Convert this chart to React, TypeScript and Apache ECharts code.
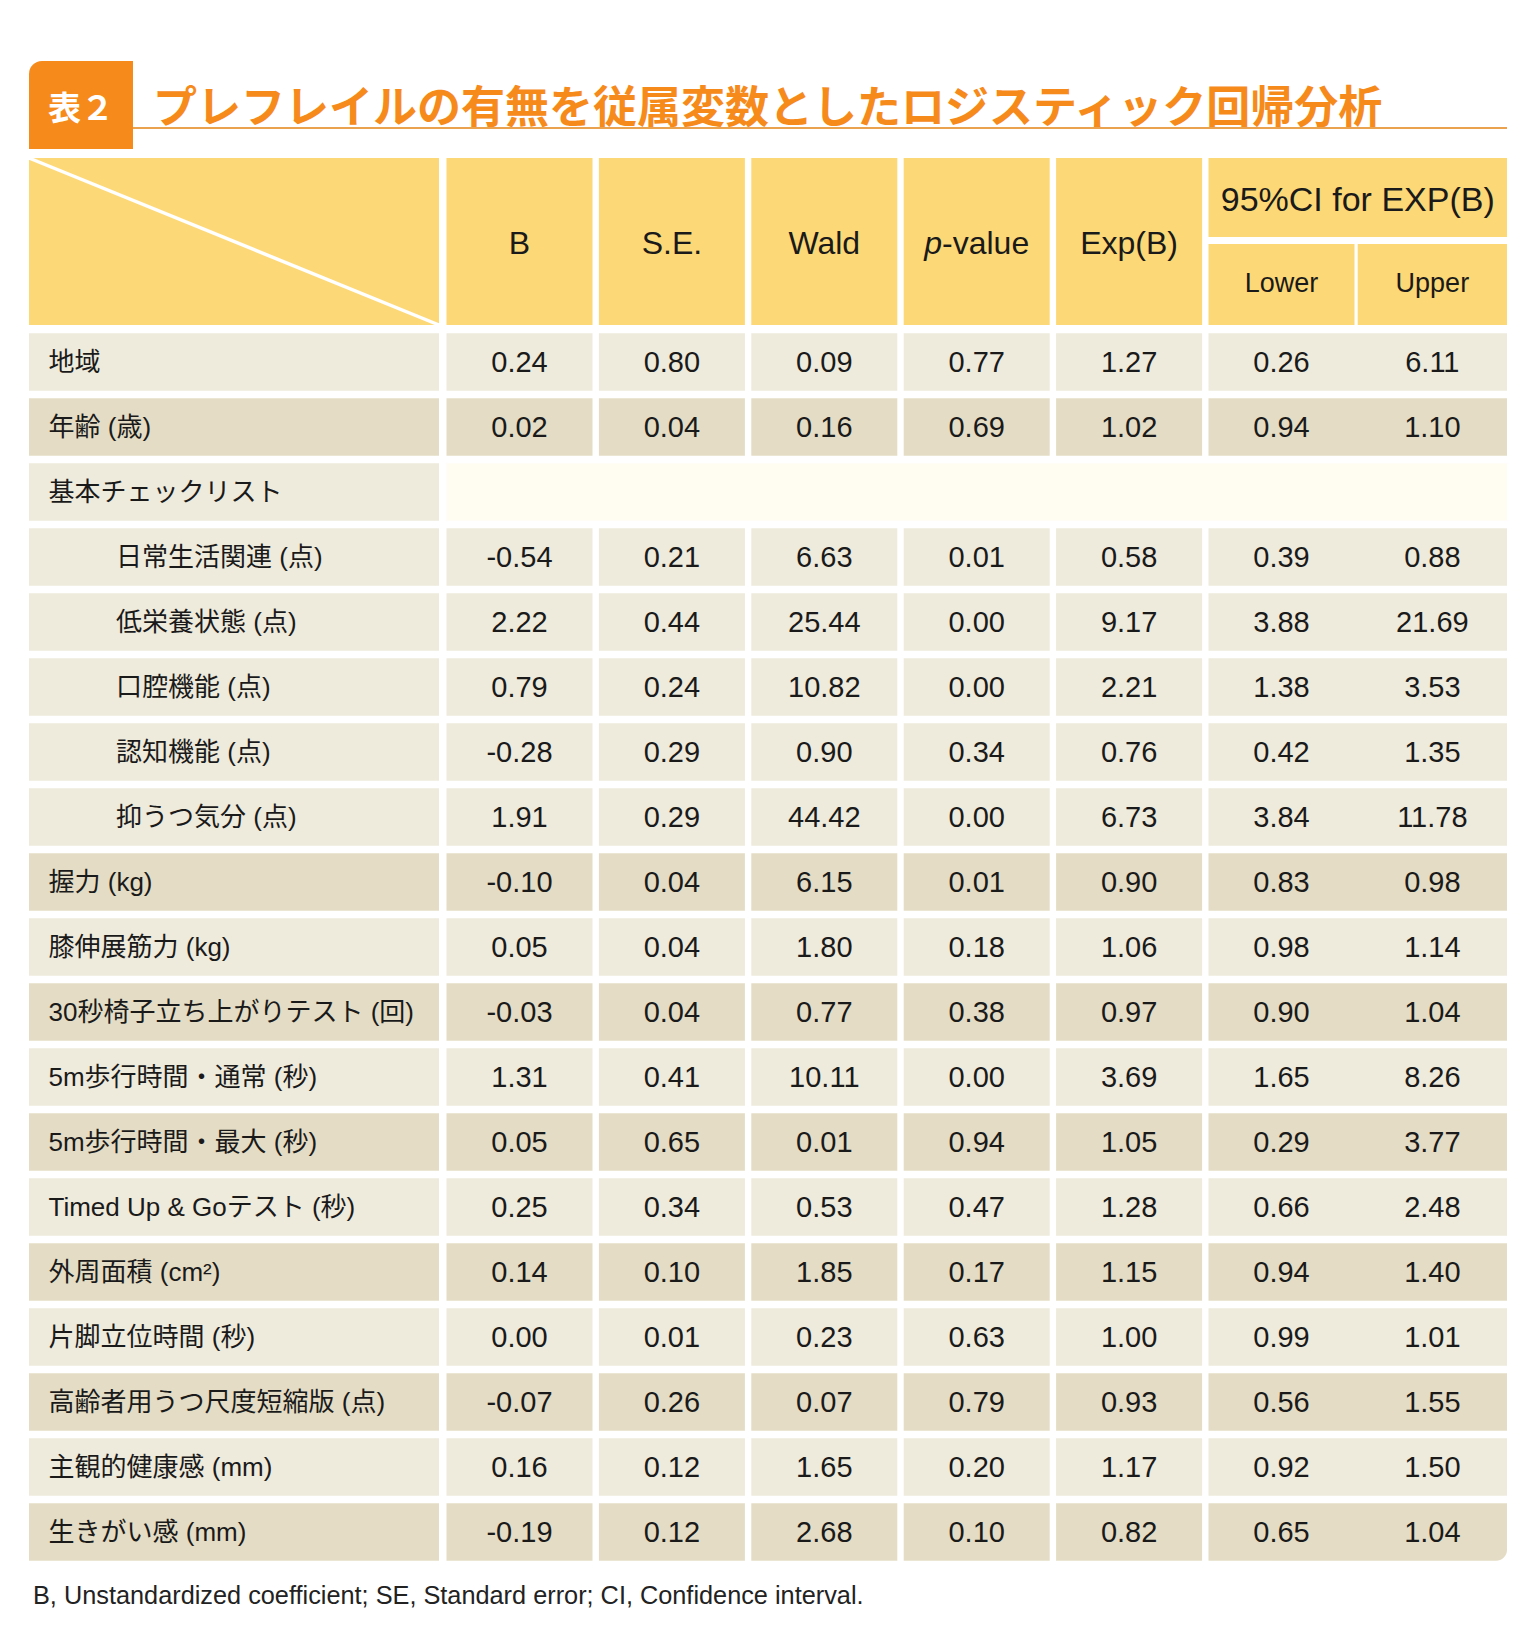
import React, { useEffect, useRef } from "react";
import * as echarts from "echarts";

// ---------- data ----------
const titleTag = "表２";
const titleText = "プレフレイルの有無を従属変数としたロジスティック回帰分析";
const colHeaders = ["B", "S.E.", "Wald", "p-value", "Exp(B)"];
const ciHeader = "95%CI for EXP(B)";
const ciSubHeaders = ["Lower", "Upper"];
const footnote = "B, Unstandardized coefficient; SE, Standard error; CI, Confidence interval.";

const rowLabels = [
  "地域",
  "年齢 (歳)",
  "基本チェックリスト",
  "日常生活関連 (点)",
  "低栄養状態 (点)",
  "口腔機能 (点)",
  "認知機能 (点)",
  "抑うつ気分 (点)",
  "握力 (kg)",
  "膝伸展筋力 (kg)",
  "30秒椅子立ち上がりテスト (回)",
  "5m歩行時間・通常 (秒)",
  "5m歩行時間・最大 (秒)",
  "Timed Up & Goテスト (秒)",
  "外周面積 (cm²)",
  "片脚立位時間 (秒)",
  "高齢者用うつ尺度短縮版 (点)",
  "主観的健康感 (mm)",
  "生きがい感 (mm)",
];
// hierarchy: 0 = top-level item, 1 = sub-item of the previous top-level item
const rowLevel = [0, 0, 0, 1, 1, 1, 1, 1, 0, 0, 0, 0, 0, 0, 0, 0, 0, 0, 0];

const valB = [0.24, 0.02, null, -0.54, 2.22, 0.79, -0.28, 1.91, -0.1, 0.05, -0.03, 1.31, 0.05, 0.25, 0.14, 0.0, -0.07, 0.16, -0.19];
const valSE = [0.8, 0.04, null, 0.21, 0.44, 0.24, 0.29, 0.29, 0.04, 0.04, 0.04, 0.41, 0.65, 0.34, 0.1, 0.01, 0.26, 0.12, 0.12];
const valWald = [0.09, 0.16, null, 6.63, 25.44, 10.82, 0.9, 44.42, 6.15, 1.8, 0.77, 10.11, 0.01, 0.53, 1.85, 0.23, 0.07, 1.65, 2.68];
const valP = [0.77, 0.69, null, 0.01, 0.0, 0.0, 0.34, 0.0, 0.01, 0.18, 0.38, 0.0, 0.94, 0.47, 0.17, 0.63, 0.79, 0.2, 0.1];
const valExp = [1.27, 1.02, null, 0.58, 9.17, 2.21, 0.76, 6.73, 0.9, 1.06, 0.97, 3.69, 1.05, 1.28, 1.15, 1.0, 0.93, 1.17, 0.82];
const valLower = [0.26, 0.94, null, 0.39, 3.88, 1.38, 0.42, 3.84, 0.83, 0.98, 0.9, 1.65, 0.29, 0.66, 0.94, 0.99, 0.56, 0.92, 0.65];
const valUpper = [6.11, 1.1, null, 0.88, 21.69, 3.53, 1.35, 11.78, 0.98, 1.14, 1.04, 8.26, 3.77, 2.48, 1.4, 1.01, 1.55, 1.5, 1.04];

// ---------- layout & style ----------
const W = 1536;
const H = 1646;
const GRID_LEFT = 29;
const GRID_W = 1478;
const GRID_TOP = 329.5;
const ROW_PITCH = 65;
const CELL_FRAC = 0.885;

const LABEL_COL = [0, 410];
const DATA_START = 417.5;
const DATA_W = 146;
const DATA_PITCH = 152.4;
const CI_COL = [DATA_START + 5 * DATA_PITCH, GRID_W];
const CI_SPLIT = CI_COL[0] + DATA_W + 3.2;

const HEAD_TOP = 158;
const HEAD_BOTTOM = 325;
const CI_TOP_BOTTOM = 237;
const CI_SUB_TOP = 244;

const C_HEAD = "#FDD876";
const C_LIGHT = "#EEEADC";
const C_DARK = "#E4DCC4";
const C_CREAM = "#FFFCF2";
const C_ORANGE = "#F68A1A";
const C_LINE = "#EAA24E";
const C_TEXT = "#1a1a1a";
const FONT = "'Liberation Sans', 'Noto Sans CJK JP', sans-serif";
const CJK = "'Noto Sans CJK JP', sans-serif";

const FS_DATA = 29;
const FS_LABEL = 26;
const FS_HEAD = 32;
const FS_CI = 34;
const FS_SUB = 27;

const dataCols = [valB, valSE, valWald, valP, valExp];

function fmt(v: number | null) {
  if (v === null || v === undefined) return "";
  return v.toFixed(2);
}

// top-level group index for alternating shading
const groupIndex: number[] = [];
{
  let g = -1;
  rowLevel.forEach((lv) => {
    if (lv === 0) g += 1;
    groupIndex.push(g);
  });
}

function txt(x: number, y: number, text: string, size: number, opts: any = {}) {
  const align = opts.align || "center";
  return {
    type: "text",
    x,
    y,
    silent: true,
    style: {
      text,
      fill: opts.fill || C_TEXT,
      fontSize: size,
      fontFamily: opts.family || FONT,
      fontWeight: opts.weight || "normal",
      align,
      textAlign: align,
      verticalAlign: "middle",
      textVerticalAlign: "middle",
      rich: opts.rich,
    },
  };
}

function cellText(x: number, y: number, text: string, size: number, align: string) {
  return {
    type: "text",
    x,
    y,
    style: {
      text,
      fill: C_TEXT,
      fontSize: size,
      fontFamily: FONT,
      align,
      textAlign: align,
      verticalAlign: "middle",
      textVerticalAlign: "middle",
    },
  };
}

export default function App() {
  const ref = useRef<HTMLDivElement>(null);

  useEffect(() => {
    if (!ref.current) return;
    const chart = echarts.init(ref.current, undefined, { renderer: "svg" });

    const gx = (u: number) => GRID_LEFT + u;

    const graphic: any[] = [];
    // title tab
    graphic.push({
      type: "rect",
      shape: { x: 29, y: 61, width: 104, height: 88, r: [13, 0, 0, 0] },
      style: { fill: C_ORANGE },
    });
    graphic.push(txt(81, 106, titleTag, 33, { fill: "#ffffff", family: CJK, weight: "bold" }));
    graphic.push(txt(153, 104, titleText, 44, { fill: C_ORANGE, family: CJK, weight: "bold", align: "left" }));
    graphic.push({
      type: "line",
      shape: { x1: 133, y1: 128, x2: GRID_LEFT + GRID_W, y2: 128 },
      style: { stroke: C_LINE, lineWidth: 2 },
    });

    // header
    graphic.push({
      type: "rect",
      shape: { x: gx(LABEL_COL[0]), y: HEAD_TOP, width: LABEL_COL[1] - LABEL_COL[0], height: HEAD_BOTTOM - HEAD_TOP },
      style: { fill: C_HEAD },
    });
    graphic.push({
      type: "line",
      shape: { x1: gx(LABEL_COL[0]), y1: HEAD_TOP, x2: gx(LABEL_COL[1]), y2: HEAD_BOTTOM },
      style: { stroke: "#ffffff", lineWidth: 3.5 },
    });
    colHeaders.forEach((h, k) => {
      const x0 = gx(DATA_START + k * DATA_PITCH);
      graphic.push({
        type: "rect",
        shape: { x: x0, y: HEAD_TOP, width: DATA_W, height: HEAD_BOTTOM - HEAD_TOP },
        style: { fill: C_HEAD },
      });
      const isP = h.indexOf("p-") === 0;
      graphic.push(
        txt(x0 + DATA_W / 2, 243, isP ? "{i|p}-value" : h, FS_HEAD, {
          rich: isP
            ? { i: { fontStyle: "italic", fontSize: FS_HEAD, fontFamily: FONT, fill: C_TEXT } }
            : undefined,
        })
      );
    });
    graphic.push({
      type: "rect",
      shape: { x: gx(CI_COL[0]), y: HEAD_TOP, width: CI_COL[1] - CI_COL[0], height: CI_TOP_BOTTOM - HEAD_TOP },
      style: { fill: C_HEAD },
    });
    graphic.push(txt(gx((CI_COL[0] + CI_COL[1]) / 2), 199, ciHeader, FS_CI));
    const subCols = [
      [CI_COL[0], CI_COL[0] + DATA_W],
      [CI_SPLIT, CI_COL[1]],
    ];
    ciSubHeaders.forEach((h, k) => {
      const [a, b] = subCols[k];
      graphic.push({
        type: "rect",
        shape: { x: gx(a), y: CI_SUB_TOP, width: b - a, height: HEAD_BOTTOM - CI_SUB_TOP },
        style: { fill: C_HEAD },
      });
      graphic.push(txt(gx((a + b) / 2), 283, h, FS_SUB));
    });

    // footnote
    graphic.push(txt(33, 1595, footnote, 25.3, { align: "left", fill: "#222" }));

    const lastRow = rowLabels.length - 1;

    const option: any = {
      animation: false,
      backgroundColor: "#ffffff",
      grid: {
        left: GRID_LEFT,
        width: GRID_W,
        top: GRID_TOP,
        height: ROW_PITCH * rowLabels.length,
        containLabel: false,
      },
      xAxis: { type: "value", min: 0, max: GRID_W, show: false },
      yAxis: { type: "category", data: rowLabels, inverse: true, show: false },
      graphic,
      series: [
        {
          type: "custom",
          clip: false,
          encode: { x: 0, y: 1 },
          data: rowLabels.map((_, i) => [0, i]),
          renderItem: (params: any, api: any) => {
            const i = api.value(1) as number;
            const cy = api.coord([0, i])[1];
            const band = api.size([0, 1])[1];
            const h = band * CELL_FRAC;
            const top = cy - h / 2;
            const px = (u: number) => api.coord([u, i])[0];
            const shade = groupIndex[i] % 2 === 0 ? C_LIGHT : C_DARK;
            const children: any[] = [];
            // label cell
            children.push({
              type: "rect",
              shape: { x: px(LABEL_COL[0]), y: top, width: px(LABEL_COL[1]) - px(LABEL_COL[0]), height: h },
              style: { fill: shade },
            });
            children.push(cellText(px(rowLevel[i] === 1 ? 87 : 19.5), cy, rowLabels[i], FS_LABEL, "left"));
            const isSection = valB[i] === null;
            if (isSection) {
              children.push({
                type: "rect",
                shape: { x: px(DATA_START), y: top, width: px(GRID_W) - px(DATA_START), height: h },
                style: { fill: C_CREAM },
              });
            } else {
              dataCols.forEach((arr, k) => {
                const a = DATA_START + k * DATA_PITCH;
                children.push({
                  type: "rect",
                  shape: { x: px(a), y: top, width: px(a + DATA_W) - px(a), height: h },
                  style: { fill: shade },
                });
                children.push(cellText(px(a + DATA_W / 2), cy, fmt(arr[i]), FS_DATA, "center"));
              });
              children.push({
                type: "rect",
                shape: {
                  x: px(CI_COL[0]),
                  y: top,
                  width: px(CI_COL[1]) - px(CI_COL[0]),
                  height: h,
                  r: i === lastRow ? [0, 0, 11, 0] : 0,
                },
                style: { fill: shade },
              });
              [valLower, valUpper].forEach((arr, k) => {
                const [a, b] = subCols[k];
                children.push(cellText(px((a + b) / 2), cy, fmt(arr[i]), FS_DATA, "center"));
              });
            }
            return { type: "group", children };
          },
        },
      ],
    };

    chart.setOption(option);
    return () => chart.dispose();
  }, []);

  return (
    <div
      ref={ref}
      style={{ position: "absolute", left: 0, top: 0, width: W, height: H }}
    />
  );
}
